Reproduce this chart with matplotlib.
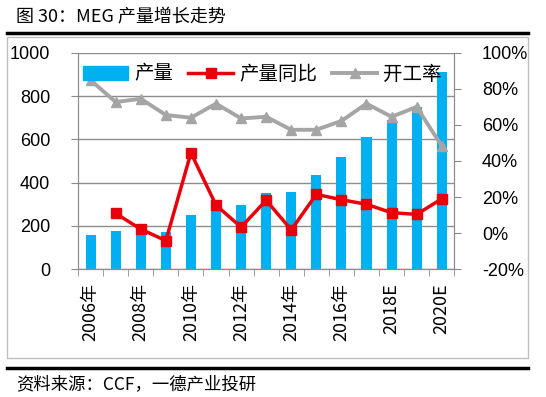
import numpy as np
import matplotlib.pyplot as plt
from matplotlib.lines import Line2D
from matplotlib.patches import Patch, Rectangle

plt.rcParams['font.family'] = ['Liberation Sans', 'Noto Sans CJK SC', 'DejaVu Sans']

# data
years = ['2006年', '2007年', '2008年', '2009年', '2010年', '2011年', '2012年', '2013年',
         '2014年', '2015年', '2016年', '2017年', '2018E', '2019E', '2020E']
output = [158, 177, 181, 172, 250, 290, 296, 350, 357, 437, 520, 610, 689, 750, 912]
yoy = [None, 10.9, 2.2, -4.2, 44.5, 15.5, 3.3, 18.2, 1.8, 21.5, 18.5, 16.0, 11.3, 10.4, 19.0]
util = [84.8, 72.7, 74.5, 65.5, 64.0, 71.8, 63.6, 64.5, 57.3, 57.3, 62.2, 71.8, 64.5, 70.0, 48.3]

blue = '#00B0F0'
red = '#E8000B'
grey = '#A5A5A5'
cjk = ['Noto Sans CJK SC', 'DejaVu Sans']

fig = plt.figure(figsize=(5.46, 3.97), dpi=100)
ax = fig.add_axes([0.143, 0.322, 0.689, 0.545])
ax2 = ax.twinx()

x = np.arange(len(years))
ax.bar(x, output, width=0.4, color=blue, zorder=2)

yoy_x = [i for i, v in enumerate(yoy) if v is not None]
yoy_v = [v for v in yoy if v is not None]
ax2.plot(yoy_x, yoy_v, color=red, lw=2.5, marker='s', ms=7, zorder=3)
ax2.plot(x, util, color=grey, lw=2.8, marker='^', ms=7, zorder=3)

ax.set_xlim(-0.5, len(years) - 0.5)
ax.set_ylim(0, 1000)
ax.set_yticks(range(0, 1001, 200))
ax2.set_ylim(-20, 100)
ax2.set_yticks(range(-20, 101, 20))
ax2.set_yticklabels([f'{v}%' for v in range(-20, 101, 20)])

ax.yaxis.grid(True, color='#8C8C8C', lw=1)
ax.set_axisbelow(True)
ax.set_zorder(ax2.get_zorder() - 1)
ax.patch.set_visible(False)

ax.set_xticks(x[::2])
ax.set_xticklabels(years[::2], rotation=90, fontsize=13, family=cjk)
ax.set_xticks(np.arange(-0.5, len(years), 1), minor=True)
ax.tick_params(axis='x', which='major', length=0, pad=10)
ax.tick_params(axis='x', which='minor', length=5, color='#8C8C8C')
ax.tick_params(axis='y', length=5, color='#8C8C8C', labelsize=13, pad=15)
ax2.tick_params(axis='y', length=5, color='#8C8C8C', labelsize=13, pad=15)

for a in (ax, ax2):
    for s in a.spines.values():
        s.set_color('#8C8C8C')
    a.spines['top'].set_visible(False)

handles = [Patch(color=blue),
           Line2D([], [], color=red, lw=2.5, marker='s', ms=7),
           Line2D([], [], color=grey, lw=2.8, marker='^', ms=7)]
ax2.legend(handles, ['产量', '产量同比', '开工率'], ncol=3, loc='upper center',
           bbox_to_anchor=(0.49, 1.03), frameon=False, prop={'family': cjk, 'size': 14},
           handlelength=2.3, handletextpad=0.3, columnspacing=0.8)

fig.text(0.03, 0.955, '图 30：MEG 产量增长走势', fontsize=13, weight='medium',
         family=cjk, va='center')
fig.add_artist(Line2D([0.013, 0.967], [0.917, 0.917], color='black', lw=2.5))
fig.add_artist(Rectangle((0.013, 0.098), 0.954, 0.809, fill=False,
                         edgecolor='#BFBFBF', lw=1))
fig.add_artist(Line2D([0.013, 0.967], [0.072, 0.072], color='black', lw=2.5))
fig.text(0.03, 0.033, '资料来源：CCF，一德产业投研', fontsize=12.5,
         family=cjk, va='center')

fig.savefig('out.png', dpi=100)
